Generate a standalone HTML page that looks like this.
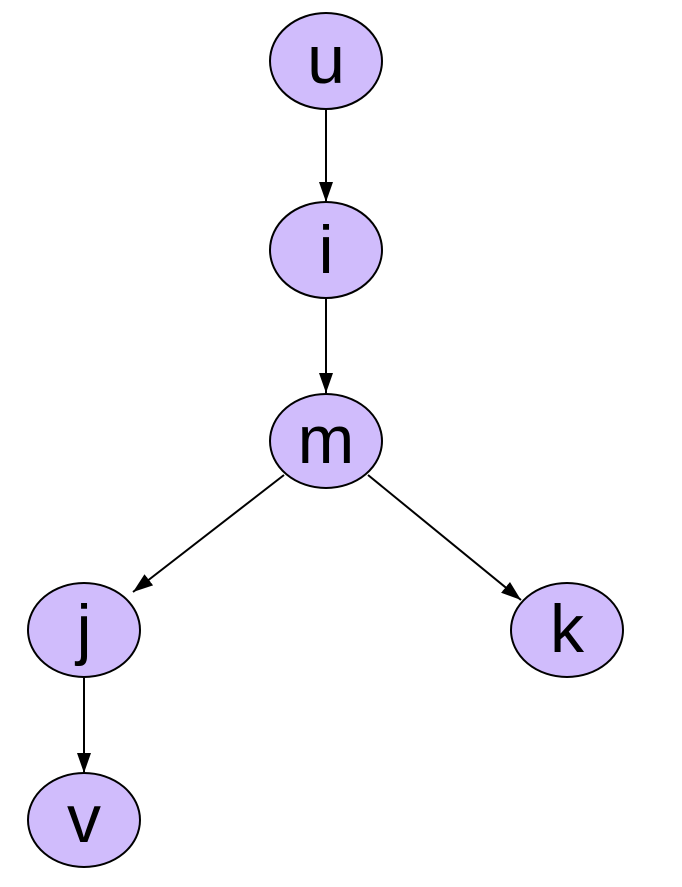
<!DOCTYPE html>
<html><head><style>html,body{margin:0;padding:0;background:#fff}</style></head><body>
<svg width="682" height="882" viewBox="0 0 682 882" xmlns="http://www.w3.org/2000/svg">
<defs><marker id="a" markerWidth="20" markerHeight="14" refX="20" refY="7" orient="auto" markerUnits="userSpaceOnUse" viewBox="0 0 20 14"><path d="M0,0 L20,7 L0,14 z" fill="#000"/></marker></defs>
<g stroke="#000" stroke-width="2" fill="none">
<line x1="326" y1="109" x2="326" y2="202" marker-end="url(#a)"/>
<line x1="326" y1="298" x2="326" y2="393" marker-end="url(#a)"/>
<line x1="284" y1="475" x2="133" y2="592" marker-end="url(#a)"/>
<line x1="368" y1="475" x2="521" y2="600" marker-end="url(#a)"/>
<line x1="84" y1="678" x2="84" y2="773" marker-end="url(#a)"/>
</g>
<g fill="#d0bcfc" stroke="#000" stroke-width="2">
<ellipse cx="326" cy="61" rx="56" ry="48"/>
<ellipse cx="326" cy="250" rx="56" ry="48"/>
<ellipse cx="326" cy="441" rx="56" ry="47"/>
<ellipse cx="84" cy="630" rx="56" ry="47"/>
<ellipse cx="567" cy="630" rx="56" ry="47"/>
<ellipse cx="84" cy="820" rx="56" ry="47"/>
</g>
<g font-family="Liberation Sans, sans-serif" font-size="68" text-anchor="middle" fill="#000">
<text x="326" y="83">u</text>
<text x="326" y="273">i</text>
<text x="326" y="463">m</text>
<text x="84" y="652">j</text>
<text x="567" y="652">k</text>
<text x="84" y="842">v</text>
</g>
</svg>
</body></html>
